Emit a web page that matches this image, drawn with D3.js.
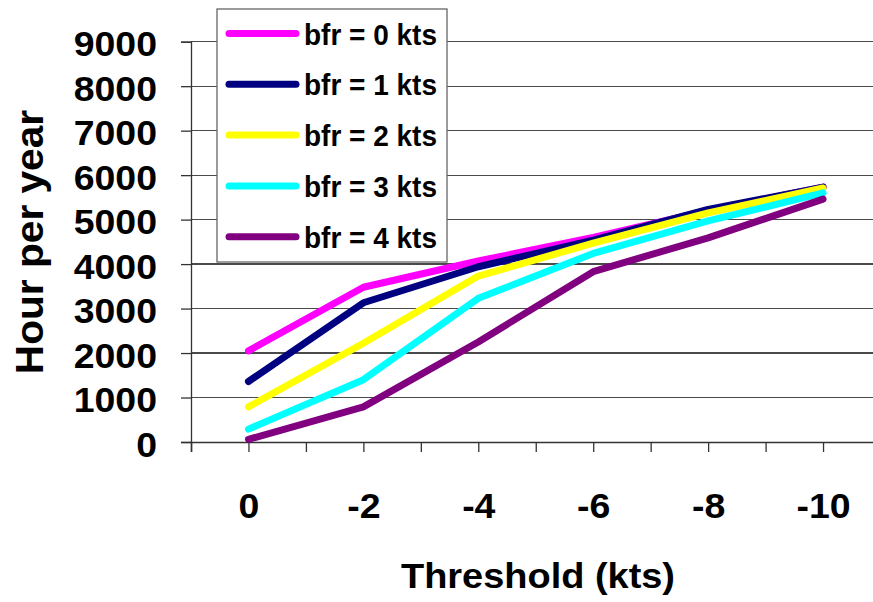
<!DOCTYPE html>
<html>
<head>
<meta charset="utf-8">
<script src="https://cdn.jsdelivr.net/npm/d3@7/dist/d3.min.js"></script>
<style>
  html, body { margin: 0; padding: 0; background: #fff; }
  svg { display: block; }
  text { font-family: "Liberation Sans", Arial, sans-serif; font-weight: bold; fill: #000; }
</style>
</head>
<body>
<svg id="chart" width="873" height="602"></svg>
<script>
// Threshold values (kts) along the category axis
const thresholds = [0, -2, -4, -6, -8, -10];
// Series names and line colours
const seriesNames = ["bfr = 0 kts", "bfr = 1 kts", "bfr = 2 kts", "bfr = 3 kts", "bfr = 4 kts"];
const seriesColors = ["#FF00FF", "#000080", "#FFFF00", "#00FFFF", "#800080"];
// Hours per year for each series
const bfr0 = [2050, 3480, 4070, 4600, 5200, 5730];
const bfr1 = [1360, 3130, 3940, 4540, 5230, 5730];
const bfr2 = [790, 2220, 3730, 4470, 5150, 5710];
const bfr3 = [290, 1400, 3230, 4240, 4970, 5600];
const bfr4 = [60, 790, 2250, 3830, 4590, 5460];
const seriesValues = [bfr0, bfr1, bfr2, bfr3, bfr4];
// Axis ticks
const yTicks = [0, 1000, 2000, 3000, 4000, 5000, 6000, 7000, 8000, 9000];
const xMinorTicks = [1, 0, -1, -2, -3, -4, -5, -6, -7, -8, -9, -10, -11];

const svg = d3.select("#chart");

const x = d3.scaleLinear().domain([1, -11]).range([191, 880.5]);
const y = d3.scaleLinear().domain([0, 9000]).range([442, 41.7]);

// Horizontal gridlines
svg.append("g")
  .selectAll("line")
  .data(yTicks.filter(d => d > 0))
  .join("line")
  .attr("x1", x(1)).attr("x2", x(-11))
  .attr("y1", d => y(d)).attr("y2", d => y(d))
  .attr("stroke", "#4a4a4a")
  .attr("stroke-width", 1.2)
  .attr("shape-rendering", "crispEdges");

// Y axis
const yAxis = d3.axisLeft(y).tickValues(yTicks).tickSize(10).tickPadding(0).tickFormat(d3.format("d"));
const gy = svg.append("g").attr("transform", `translate(${x(1)},0)`).call(yAxis);
gy.select(".domain").attr("stroke", "#333").attr("stroke-width", 1.3);
gy.selectAll(".tick line").attr("stroke", "#333").attr("stroke-width", 1.3);
gy.selectAll(".tick text")
  .attr("x", null).attr("dy", null)
  .attr("font-size", 35)
  .attr("text-anchor", "end")
  .attr("dominant-baseline", "central")
  .attr("fill", "#000")
  .attr("transform", "translate(-34,2) scale(1.07,1)");

// X axis (ticks at every unit, labels on the plotted thresholds)
const xAxis = d3.axisBottom(x).tickValues(xMinorTicks).tickSize(10).tickPadding(0)
  .tickFormat(d => thresholds.includes(d) ? String(d) : "");
const gx = svg.append("g").attr("transform", `translate(0,${y(0)})`).call(xAxis);
gx.select(".domain").attr("stroke", "#333").attr("stroke-width", 1.5);
gx.selectAll(".tick line").attr("stroke", "#333").attr("stroke-width", 1.3);
gx.selectAll(".tick text")
  .attr("y", null).attr("dy", null)
  .attr("font-size", 35)
  .attr("fill", "#000")
  .attr("transform", "translate(0,75.5) scale(1.07,1)");

// Series lines
const line = d3.line()
  .x((d, i) => x(thresholds[i]))
  .y(d => y(d));

svg.append("g")
  .selectAll("path")
  .data(seriesValues)
  .join("path")
  .attr("d", d => line(d))
  .attr("fill", "none")
  .attr("stroke", (d, i) => seriesColors[i])
  .attr("stroke-width", 7)
  .attr("stroke-linejoin", "round")
  .attr("stroke-linecap", "round");

// Axis titles
svg.append("text")
  .attr("transform", "translate(538,588) scale(1.1,1)")
  .attr("text-anchor", "middle")
  .attr("font-size", 34.5)
  .text("Threshold (kts)");

svg.append("text")
  .attr("transform", "translate(43,242) rotate(-90) scale(1.07,1)")
  .attr("text-anchor", "middle")
  .attr("font-size", 38)
  .text("Hour per year");

// Legend
const legend = svg.append("g");
legend.append("rect")
  .attr("x", 217).attr("y", 9)
  .attr("width", 230).attr("height", 253)
  .attr("fill", "#fff")
  .attr("stroke", "#666")
  .attr("stroke-width", 1.3);

const item = legend.selectAll("g.item")
  .data(seriesNames)
  .join("g")
  .attr("class", "item")
  .attr("transform", (d, i) => `translate(0,${33.5 + i * 50.8})`);

item.append("line")
  .attr("x1", 229).attr("x2", 296)
  .attr("y1", 0).attr("y2", 0)
  .attr("stroke", (d, i) => seriesColors[i])
  .attr("stroke-width", 7)
  .attr("stroke-linecap", "round");

item.append("text")
  .attr("transform", "translate(304,11) scale(1.0,1.05)")
  .attr("font-size", 28)
  .text(d => d);
</script>
</body>
</html>
